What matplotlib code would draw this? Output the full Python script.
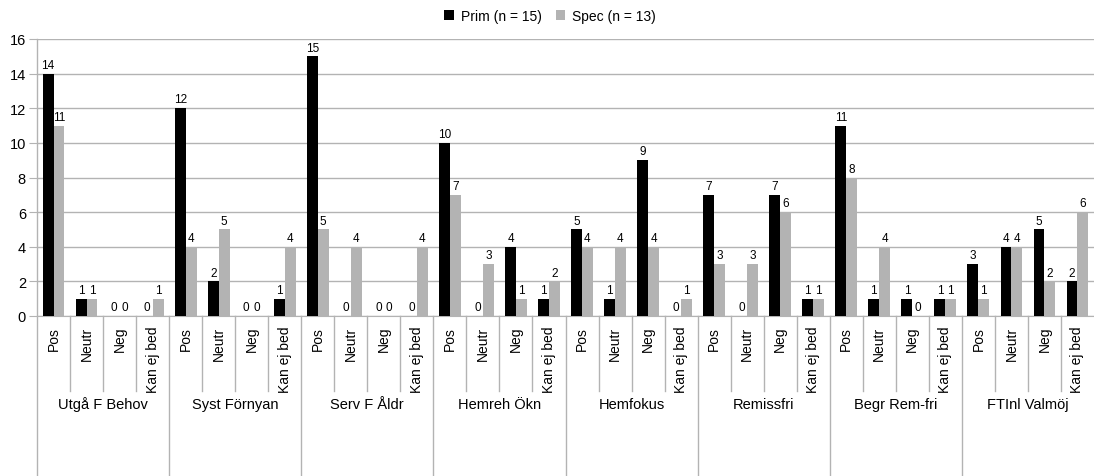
import matplotlib
matplotlib.use("Agg")
import matplotlib.pyplot as plt
import matplotlib.transforms as mtransforms
import numpy as np

plt.rcParams['font.family'] = ['Liberation Sans', 'DejaVu Sans']

groups = ["Utgå F Behov", "Syst Förnyan", "Serv F Åldr", "Hemreh Ökn",
          "Hemfokus", "Remissfri", "Begr Rem-fri", "FTInl Valmöj"]
answers = ["Pos", "Neutr", "Neg", "Kan ej bed"]

prim = [14, 1, 0, 0,
        12, 2, 0, 1,
        15, 0, 0, 0,
        10, 0, 4, 1,
        5, 1, 9, 0,
        7, 0, 7, 1,
        11, 1, 1, 1,
        3, 4, 5, 2]
spec = [11, 1, 0, 1,
        4, 5, 0, 4,
        5, 4, 0, 4,
        7, 3, 1, 2,
        4, 4, 4, 1,
        3, 3, 6, 1,
        8, 4, 0, 1,
        1, 4, 2, 6]

series_names = ["Prim (n = 15)", "Spec (n = 13)"]
colors = ["#000000", "#b3b3b3"]
grid_col = "#b3b3b3"

W, H = 1094, 477
fig = plt.figure(figsize=(W / 100, H / 100), dpi=100)
left, right, top, bottom = 37, 1094, 40, 317
ax = fig.add_axes([left / W, (H - bottom) / H, (right - left) / W, (bottom - top) / H])

n = len(prim)
x = np.arange(n) + 0.5
bw = 0.33
b1 = ax.bar(x - bw / 2, prim, bw, color=colors[0], label=series_names[0], zorder=3)
b2 = ax.bar(x + bw / 2, spec, bw, color=colors[1], label=series_names[1], zorder=3)
for bars in (b1, b2):
    ax.bar_label(bars, padding=2, fontsize=8.5)

ax.set_xlim(0, n)
ax.set_ylim(0, 16)
ax.set_yticks(range(0, 17, 2))
ax.tick_params(axis='y', labelsize=10.5, length=6, color=grid_col, pad=2)
ax.set_xticks([])
ax.yaxis.grid(True, color=grid_col, linewidth=1, zorder=0)
for s in ["top", "right"]:
    ax.spines[s].set_visible(False)
ax.spines["bottom"].set_color(grid_col)
ax.spines["left"].set_visible(False)

# category axis: answers rotated, group names below, separator lines
trans = mtransforms.blended_transform_factory(ax.transData, ax.transAxes)
ah = bottom - top
for i in range(n):
    ax.text(x[i], -10 / ah, answers[i % 4], rotation=90, ha='center', va='top',
            fontsize=10, transform=trans)
for i in range(n + 1):
    if i % 4 == 0:
        y_end = -(H - bottom) / ah
    else:
        y_end = -(392 - bottom) / ah
    if i < n:
        ax.plot([i, i], [1, y_end] if i == 0 else [0, y_end], color=grid_col,
                linewidth=1, transform=trans, clip_on=False, zorder=1)
for g, name in enumerate(groups):
    ax.text(g * 4 + 2, -(405 - bottom) / ah, name, ha='center', va='center',
            fontsize=10.5, transform=trans)

fig.legend(loc='center', bbox_to_anchor=(550 / W, 1 - 17 / H), ncol=2, frameon=False,
           fontsize=10, handlelength=0.7, handleheight=0.7, handletextpad=0.5,
           columnspacing=1.0)

fig.savefig("out.png", dpi=100)
